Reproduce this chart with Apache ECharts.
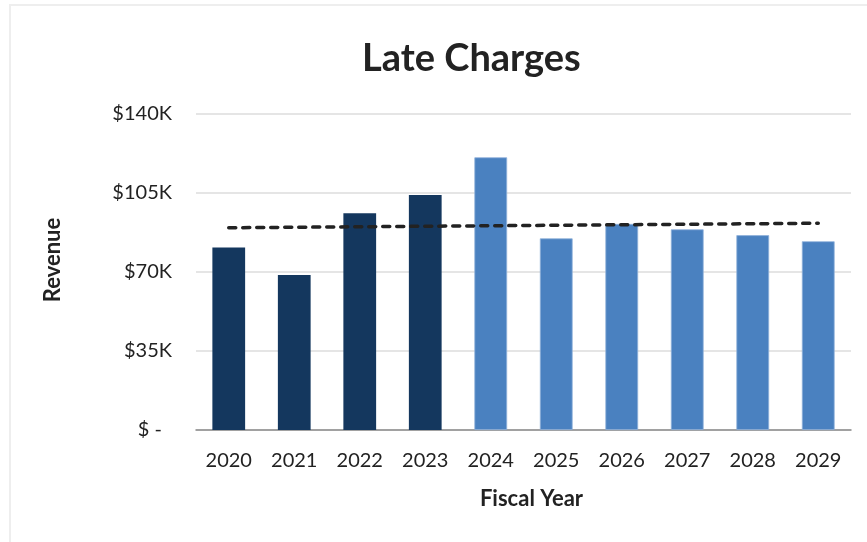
<!DOCTYPE html>
<html>
<head>
<meta charset="utf-8">
<script src="https://cdn.jsdelivr.net/npm/echarts@6/dist/echarts.min.js"></script>
<style>html,body{margin:0;padding:0;background:#fff}#c{width:867px;height:542px}</style>
</head>
<body>
<div id="c"></div>
<script>
var categories = ['2020','2021','2022','2023','2024','2025','2026','2027','2028','2029'];
var actualRevenue = [80800, 68700, 96000, 104100, null, null, null, null, null, null];
var projectedRevenue = [null, null, null, null, 120800, 84900, 91300, 88900, 86300, 83600];
var trendLine = [89600, null, null, null, null, null, null, null, null, 91600];
var yTicks = [0, 35000, 70000, 105000, 140000];

var FONT = 'Lato, "Open Sans", sans-serif';
var chart = echarts.init(document.getElementById('c'), null, {renderer: 'canvas'});
chart.setOption({
  animation: false,
  backgroundColor: '#fff',
  textStyle: {fontFamily: FONT},
  graphic: [{
    type: 'rect', z: -10, silent: true,
    shape: {x: 10, y: 5, width: 900, height: 600},
    style: {fill: 'none', stroke: '#eeeeee', lineWidth: 2}
  }],
  title: {
    text: 'Late Charges', left: 357, top: 35,
    textStyle: {fontFamily: FONT, fontSize: 38, fontWeight: 'bold', color: '#222'}
  },
  grid: {left: 196, right: 16, top: 114, bottom: 112},
  xAxis: {
    type: 'category', data: categories,
    axisTick: {show: false},
    axisLine: {lineStyle: {color: '#8a8a8a', width: 1.5}},
    axisLabel: {color: '#222', fontSize: 20, margin: 21, fontFamily: FONT},
    name: 'Fiscal Year', nameLocation: 'middle', nameGap: 58,
    nameTextStyle: {fontSize: 22, fontWeight: 'bold', color: '#222', fontFamily: FONT, padding: [0, 0, 0, 16]}
  },
  yAxis: {
    type: 'value', min: yTicks[0], max: yTicks[yTicks.length - 1], interval: 35000,
    axisLine: {show: false}, axisTick: {show: false},
    splitLine: {lineStyle: {color: '#dcdcdc', width: 1.5}},
    axisLabel: {
      color: '#222', fontSize: 20, margin: 24, fontFamily: FONT,
      formatter: function (v) { return v === 0 ? '{z|$ -}' : '$' + (v / 1000) + 'K'; },
      rich: {z: {fontSize: 20, color: '#222', fontFamily: FONT, padding: [0, 10, 0, 0]}}
    },
    name: 'Revenue', nameLocation: 'middle', nameGap: 132, nameRotate: 90,
    nameTextStyle: {fontSize: 22, fontWeight: 'bold', color: '#222', fontFamily: FONT, padding: [0, 0, 0, 24]}
  },
  series: [
    {type: 'bar', name: 'Actual', stack: 'rev', data: actualRevenue, barWidth: '50%',
     itemStyle: {color: '#14375E'}},
    {type: 'bar', name: 'Projected', stack: 'rev', data: projectedRevenue, barWidth: '50%',
     itemStyle: {color: '#4A81C0', borderColor: '#8fb1da', borderWidth: 0.8}},
    {type: 'line', name: 'Trend', data: trendLine, connectNulls: true, symbol: 'none',
     lineStyle: {color: '#222', width: 3.5, type: [7, 7], cap: 'round'}, z: 5}
  ]
});
</script>
</body>
</html>
